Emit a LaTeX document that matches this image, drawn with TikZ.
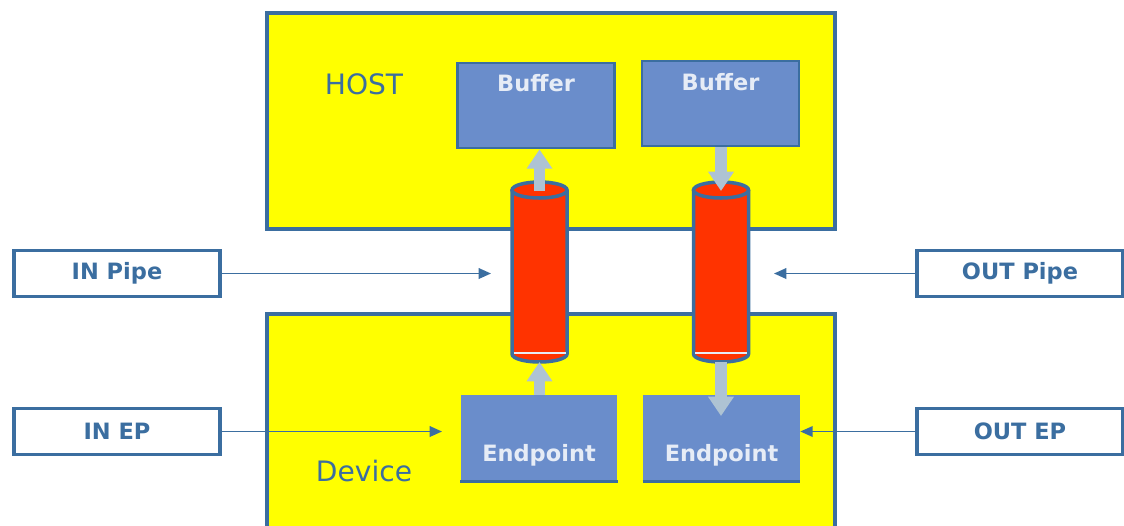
\documentclass[tikz,border=0pt]{standalone}
\usepackage{fontspec}
\setmainfont{DejaVu Sans}
\usepackage{tikz}
\usetikzlibrary{arrows.meta}
\usepackage{xcolor}
\definecolor{usb_yellow}{HTML}{FFFF00}
\definecolor{usb_blue}{HTML}{3B6EA0}
\definecolor{usb_fill}{HTML}{6A8DCB}
\definecolor{usb_text}{HTML}{E6ECF6}
\definecolor{usb_gray}{HTML}{AEC3D3}
\definecolor{usb_red}{HTML}{FF3300}

\begin{document}
\begin{tikzpicture}[
    x=0.02cm, y=-0.02cm,
    side/.style={draw=usb_blue, fill=usb_yellow, line width=2.2pt, inner sep=0pt},
    tag/.style={draw=usb_blue, fill=white, line width=2.2pt, minimum width=4.12cm, minimum height=0.92cm,
        inner sep=0pt, text=usb_blue, font=\bfseries\fontsize{12.8}{14}\selectfont},
    block/.style={fill=usb_fill, inner sep=0pt, minimum width=3.14cm, minimum height=1.7cm},
    blocktext/.style={text=usb_text, font=\bfseries\fontsize{12.8}{14}\selectfont},
    sidetext/.style={text=usb_blue, font=\fontsize{16}{18}\selectfont},
    thin/.style={draw=usb_blue, line width=1pt, -{Triangle[width=6pt, length=7pt]}},
    flow/.style={draw=usb_gray, line width=6.8pt, -{Triangle[width=14pt, length=11pt]}}
]
	\useasboundingbox (0,0) rectangle (1124,525);

	\node [side, minimum width=11.36cm, minimum height=4.32cm] (host) at (551,121) {};
	\node [side, minimum width=11.36cm, minimum height=4.62cm] (device) at (551,429.5) {};
	\node [sidetext] (hostname) at (364,84) {HOST};
	\node [sidetext] (devicename) at (364,471) {Device};

	\node [block, draw=usb_blue, line width=1.6pt,
        label={[blocktext, anchor=center, yshift=-12.5pt]north:Buffer}] (buf1) at (536,105.5) {};
	\node [block, draw=usb_blue, line width=1.6pt,
        label={[blocktext, anchor=center, yshift=-13pt]north:Buffer}] (buf2) at (720.5,103.5) {};
	\node [block, minimum height=1.72cm,
        label={[blocktext, anchor=center, yshift=14.7pt]south:Endpoint}] (ep1) at (539,438) {};
	\node [block, minimum height=1.72cm,
        label={[blocktext, anchor=center, yshift=14.7pt]south:Endpoint}] (ep2) at (721.5,438) {};
	\draw [usb_blue, line width=1.6pt] (ep1.south west) -- (ep1.south east);
	\draw [usb_blue, line width=1.6pt] (ep2.south west) -- (ep2.south east);

	\foreach \cx/\nm in {539.5/inpipe, 721/outpipe} {
        \fill [usb_red] (\cx-27.5,190) rectangle (\cx+27.5,354);
        \fill [usb_red] (\cx,354) ellipse [x radius=27.5, y radius=8];
        \draw [usb_blue, line width=2pt] (\cx-27.5,190) -- (\cx-27.5,354)
            arc [start angle=180, end angle=0, x radius=27.5, y radius=8] -- (\cx+27.5,190);
        \draw [usb_text, line width=1.6pt] (\cx-26,353) -- (\cx+26,353);
        \draw [usb_blue, fill=usb_red, line width=2pt] (\cx,190) ellipse [x radius=27.5, y radius=8];
        \coordinate (\nm-top) at (\cx,191);
        \coordinate (\nm-bot) at (\cx,362);
    }

	\draw [flow] (inpipe-top) -- (inpipe-top |- buf1.south);
	\draw [flow] (outpipe-top |- buf2.south) -- (outpipe-top);
	\draw [flow] (inpipe-bot |- ep1.north) -- (inpipe-bot);
	\coordinate (epdrop) at (721,416);
	\draw [flow] (outpipe-bot) -- (epdrop);

	\node [tag] (inpipetag) at (117,273.5) {IN Pipe};
	\node [tag] (ineptag) at (117,431.5) {IN EP};
	\node [tag] (outpipetag) at (1020,273.5) {OUT Pipe};
	\node [tag] (outeptag) at (1020,431.5) {OUT EP};

	\coordinate (inpipeend) at (491,273.5);
	\coordinate (inepend) at (442,431.5);
	\coordinate (outpipeend) at (774,273.5);
	\draw [thin] (inpipetag.east) -- (inpipeend);
	\draw [thin] (ineptag.east) -- (inepend);
	\draw [thin] (outpipetag.west) -- (outpipeend);
	\draw [thin] (outeptag.west) -- (ep2.east |- outeptag.west);
\end{tikzpicture}
\end{document}
